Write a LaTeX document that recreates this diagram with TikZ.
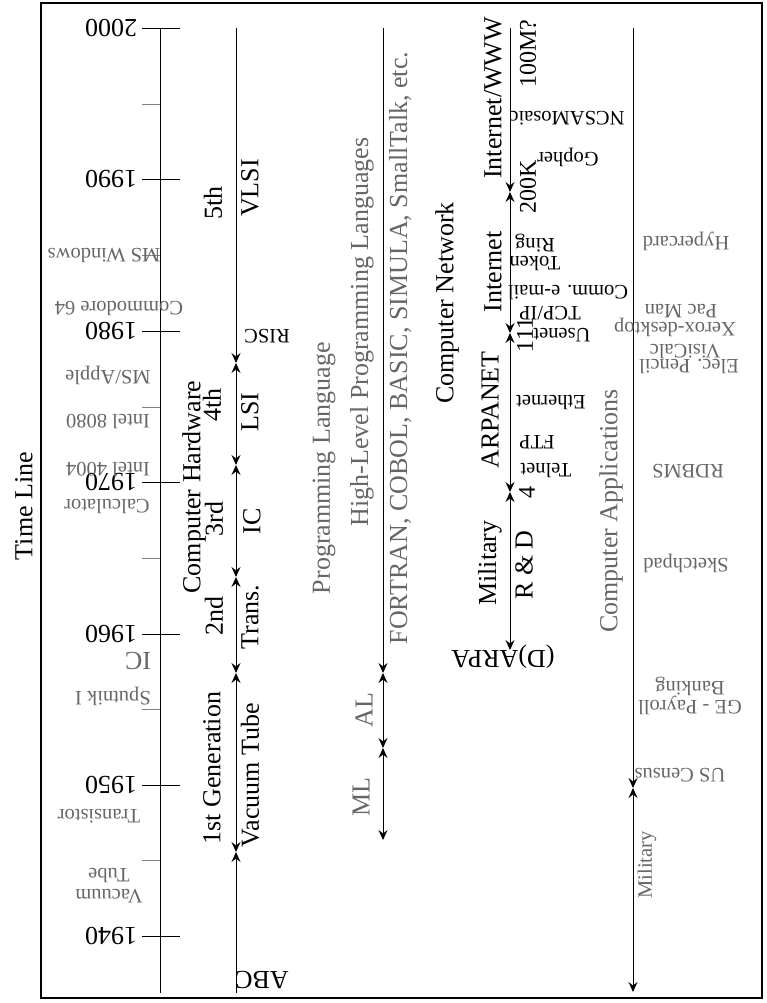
\documentclass[tikz,border=0pt]{standalone}
\usepackage{fontspec}
\setmainfont{Liberation Serif}
\usepackage{xcolor}
\usepackage{tikz}
\usetikzlibrary{arrows.meta}

\definecolor{lblgray}{gray}{0.4}

\begin{document}
\begin{tikzpicture}[
  x=1pt, y=-1pt,
  >={Stealth[length=10pt, width=9pt, inset=3.5pt]},
  txtbig/.style={font=\fontsize{26}{28}\selectfont, inner sep=0pt},
  txtcnt/.style={font=\fontsize{24}{26}\selectfont, inner sep=0pt},
  txtsmall/.style={font=\fontsize{20.5}{22}\selectfont, inner sep=0pt},
  vert/.style={rotate=90},
  upside/.style={rotate=180},
  faded/.style={text=lblgray},
  track/.style={line width=0.9pt, black},
  yrtick/.style={line width=0.9pt, black},
  halftick/.style={line width=0.9pt, gray}
]
\useasboundingbox (0,0) rectangle (767,1003);
\draw[line width=1.2pt] (41,3) rectangle (762,998);

\node[txtbig, vert] (timeline) at (24,506) {Time Line};

\coordinate (axtop) at (160,28);
\coordinate (axend) at (160,993);
\draw[track] (axtop) -- (axend);
\draw[yrtick] (142,28) -- (180,28);
\draw[yrtick] (142,179) -- (180,179);
\draw[yrtick] (142,331) -- (180,331);
\draw[yrtick] (142,482) -- (180,482);
\draw[yrtick] (142,634) -- (180,634);
\draw[yrtick] (142,785) -- (180,785);
\draw[yrtick] (142,936) -- (180,936);
\draw[halftick] (142,104) -- (160,104);
\draw[halftick] (142,255) -- (160,255);
\draw[halftick] (142,407) -- (160,407);
\draw[halftick] (142,558) -- (160,558);
\draw[halftick] (142,709) -- (160,709);
\draw[halftick] (142,860) -- (160,860);

\node[txtbig, upside] (y2000) at (111,28) {2000};
\node[txtbig, upside] (y1990) at (111,179) {1990};
\node[txtbig, upside] (y1980) at (111,331) {1980};
\node[txtbig, upside] (y1970) at (111,482) {1970};
\node[txtbig, upside] (y1960) at (111,634) {1960};
\node[txtbig, upside] (y1950) at (111,785) {1950};
\node[txtbig, upside] (y1940) at (111,936) {1940};

\node[txtsmall, upside, faded] (mswin) at (104,255) {MS Windows};
\node[txtsmall, upside, faded] (c64) at (119,309) {Commodore 64};
\node[txtsmall, upside, faded] (msapple) at (108,375) {MS/Apple};
\node[txtsmall, upside, faded] (i8080) at (108,422) {Intel 8080};
\node[txtsmall, upside, faded] (i4004) at (108,470) {Intel 4004};
\node[txtsmall, upside, faded] (calc) at (107,507) {Calculator};
\node[txtbig, upside, faded] (icev) at (138,661) {IC};
\node[txtsmall, upside, faded] (sputnik) at (113,696) {Sputnik I};
\node[txtsmall, upside, faded] (transev) at (99,816) {Transistor};
\node[txtsmall, upside, faded, align=center] (vacev) at (109,886) {Vacuum\\[-1pt]Tube};

\coordinate (hwtop) at (236,28);
\coordinate (hw4) at (236,363);
\coordinate (hw3) at (236,465);
\coordinate (hw2) at (236,577);
\coordinate (hw1) at (236,673);
\coordinate (hw0) at (236,852);
\coordinate (hwend) at (236,993);
\draw[track, ->] (hwtop) -- (hw4);
\draw[track, <->] (hw4) -- (hw3);
\draw[track, <->] (hw3) -- (hw2);
\draw[track, <->] (hw2) -- (hw1);
\draw[track, <->] (hw1) -- (hw0);
\draw[track, <-] (hw0) -- (hwend);

\node[txtbig, vert] (hwtitle) at (194,487) {Computer Hardware};
\node[txtbig, vert] (gen5) at (213,203) {5th};
\node[txtbig, vert] (gen4) at (212,405) {4th};
\node[txtbig, vert] (gen3) at (214,519) {3rd};
\node[txtbig, vert] (gen2) at (214,616) {2nd};
\node[txtbig, vert] (gen1) at (212,768) {1st Generation};
\node[txtbig, vert] (vlsi) at (250,188) {VLSI};
\node[txtbig, vert] (lsi) at (250,412) {LSI};
\node[txtbig, vert] (ichw) at (252,521) {IC};
\node[txtbig, vert] (trans) at (250,617) {Trans.};
\node[txtbig, vert] (vactube) at (250,775) {Vacuum Tube};
\node[txtsmall, upside] (risc) at (267,336) {RISC};
\node[txtbig, upside] (abc) at (262,980) {ABC};

\coordinate (pltop) at (383,28);
\coordinate (pl2) at (383,673);
\coordinate (pl1) at (383,748);
\coordinate (plend) at (383,840);
\draw[track, ->] (pltop) -- (pl2);
\draw[track, <->] (pl2) -- (pl1);
\draw[track, <->] (pl1) -- (plend);

\node[txtbig, vert, faded] (pltitle) at (324,468) {Programming Language};
\node[txtbig, vert, faded] (highlvl) at (362,332) {High-Level Programming Languages};
\node[txtbig, vert, faded] (langs) at (400,348) {FORTRAN, COBOL, BASIC, SIMULA, SmallTalk, etc.};
\node[txtbig, vert, faded] (al) at (364,710) {AL};
\node[txtbig, vert, faded] (ml) at (361,797) {ML};

\coordinate (nettop) at (510,28);
\coordinate (net3) at (510,192);
\coordinate (net2) at (510,333);
\coordinate (net1) at (510,492);
\coordinate (netend) at (510,650);
\draw[track, ->] (nettop) -- (net3);
\draw[track, <->] (net3) -- (net2);
\draw[track, <->] (net2) -- (net1);
\draw[track, <->] (net1) -- (netend);

\node[txtbig, vert] (nettitle) at (447,303) {Computer Network};
\node[txtbig, vert] (www) at (493,98) {Internet/WWW};
\node[txtbig, vert] (inet) at (493,272) {Internet};
\node[txtbig, vert] (arpanet) at (490,410) {ARPANET};
\node[txtbig, vert] (milnet) at (490,563) {Military};
\node[txtbig, vert] (rnd) at (524,565) {R \& D};
\node[txtbig, upside] (darpa) at (503,657) {(D)ARPA};
\node[txtcnt, vert] (hosts1) at (527,492) {4};
\node[txtcnt, vert] (hosts2) at (525,335) {111};
\node[txtcnt, vert] (hosts3) at (528,187) {200K};
\node[txtcnt, vert] (hosts4) at (528,54) {100M?};
\node[txtsmall, upside] (telnet) at (546,471) {Telnet};
\node[txtsmall, upside] (ftp) at (537,442) {FTP};
\node[txtsmall, upside] (ether) at (551,403) {Ethernet};
\node[txtsmall, upside] (usenet) at (562,335) {Usenet};
\node[txtsmall, upside] (tcpip) at (550,313) {TCP/IP};
\node[txtsmall, upside] (email) at (568,292) {Comm. e-mail};
\node[txtsmall, upside, align=center] (token) at (535,252) {Token\\[-4pt]Ring};
\node[txtsmall, upside] (gopher) at (568,157) {Gopher};
\node[txtsmall, upside] (mosaic) at (567,118) {NCSAMosaic};

\coordinate (apptop) at (633,28);
\coordinate (app1) at (633,788);
\coordinate (append) at (633,992);
\draw[track, ->] (apptop) -- (app1);
\draw[track, <->] (app1) -- (append);

\node[txtbig, vert, faded] (apptitle) at (611,511) {Computer Applications};
\node[txtsmall, vert, faded] (milapp) at (647,865) {Military};
\node[txtsmall, upside, faded] (census) at (680,775) {US Census};
\node[txtsmall, upside, faded, align=center] (payroll) at (690,696) {GE - Payroll\\[-3pt]Banking};
\node[txtsmall, upside, faded] (sketch) at (686,563) {Sketchpad};
\node[txtsmall, upside, faded] (rdbms) at (688,471) {RDBMS};
\node[txtsmall, upside, faded] (pencil) at (689,366) {Elec. Pencil};
\node[txtsmall, upside, faded] (visicalc) at (685,351) {VisiCalc};
\node[txtsmall, upside, faded] (xerox) at (675,327) {Xerox-desktop};
\node[txtsmall, upside, faded] (pacman) at (681,311) {Pac Man};
\node[txtsmall, upside, faded] (hyper) at (686,241) {Hypercard};
\end{tikzpicture}
\end{document}
